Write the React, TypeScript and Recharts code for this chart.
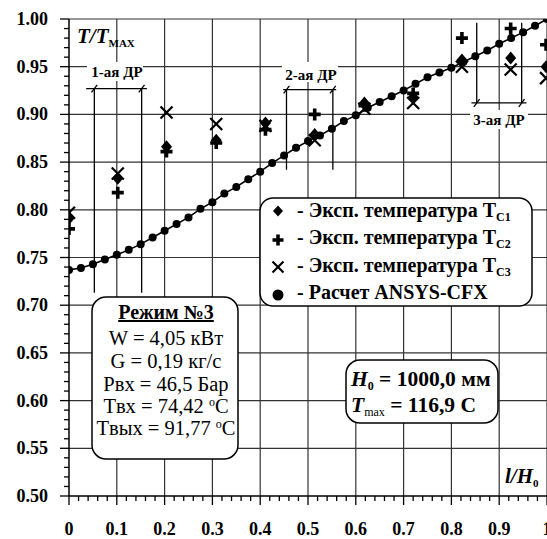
import React from 'react';
import {
    ComposedChart,
    Line,
    Scatter,
    XAxis,
    YAxis,
    ReferenceLine,
} from 'recharts';

// ANSYS-CFX calculation, l/H0 -> T/Tmax
const calcX = [
    0, 0.025, 0.05, 0.075, 0.1, 0.125, 0.15, 0.175, 0.2, 0.225,
    0.25, 0.275, 0.3, 0.325, 0.35, 0.375, 0.4, 0.425, 0.45, 0.475,
    0.5, 0.525, 0.55, 0.575, 0.6, 0.625, 0.65, 0.675, 0.7, 0.725,
    0.75, 0.775, 0.8, 0.825, 0.85, 0.875, 0.9, 0.925, 0.95, 0.975, 1.0,
];
const calcY = [
    0.737, 0.739, 0.743, 0.748, 0.753, 0.758, 0.764, 0.771, 0.778, 0.785,
    0.792, 0.801, 0.808, 0.817, 0.824, 0.832, 0.840, 0.849, 0.857, 0.865,
    0.872, 0.878, 0.885, 0.893, 0.899, 0.907, 0.913, 0.919, 0.925, 0.932,
    0.939, 0.944, 0.949, 0.955, 0.961, 0.967, 0.974, 0.980, 0.986, 0.993, 1.0,
];

// experimental points
const expX = [0, 0.102, 0.204, 0.308, 0.411, 0.514, 0.618, 0.72, 0.822, 0.924, 0.998];
const tc1 = [0.791, 0.833, 0.866, 0.873, 0.891, 0.879, 0.912, 0.918, 0.957, 0.959, 0.950];
const tc2 = [0.780, 0.818, 0.861, 0.870, 0.884, 0.900, 0.909, 0.922, 0.980, 0.990, 0.973];
const tc3 = [0.797, 0.838, 0.902, 0.890, 0.888, 0.873, 0.906, 0.912, 0.950, 0.947, 0.938];

// axes
const xMajorTicks = [0, 0.1, 0.2, 0.3, 0.4, 0.5, 0.6, 0.7, 0.8, 0.9, 1.0];
const xTickLabels = ['0', '0.1', '0.2', '0.3', '0.4', '0.5', '0.6', '0.7', '0.8', '0.9', '1'];
const yMajorTicks = [0.5, 0.55, 0.6, 0.65, 0.7, 0.75, 0.8, 0.85, 0.9, 0.95, 1.0];
const yTickLabels = ['0.50', '0.55', '0.60', '0.65', '0.70', '0.75', '0.80', '0.85', '0.90', '0.95', '1.00'];

// "ДР" zones: left/right x, top/bottom y of the verticals, y of the bar, bar ends
const drLeft = [0.053, 0.455, 0.853];
const drRight = [0.152, 0.552, 0.947];
const drTop = [0.927, 0.926, 0.996];
const drBottom = [0.713, 0.842, 0.912];
const drBarY = [0.927, 0.926, 0.912];
const drBarFrom = [0.036, 0.448, 0.842];
const drBarTo = [0.163, 0.559, 0.957];

const xMinorTicks = Array.from({ length: 51 }, (_, i) => i / 50);
const yMinorTicks = Array.from({ length: 51 }, (_, i) => 0.5 + i / 100);

const calcData = calcX.map((x, i) => ({ x, y: calcY[i] }));
const tc1Data = expX.map((x, i) => ({ x, y: tc1[i] }));
const tc2Data = expX.map((x, i) => ({ x, y: tc2[i] }));
const tc3Data = expX.map((x, i) => ({ x, y: tc3[i] }));

const FONT = 'Liberation Serif, serif';
const serif = { fontFamily: FONT };

const isMajor = (v: number, step: number) => Math.abs(Math.round(v / step) * step - v) < 1e-6;

const XTick = (props: any) => {
    const { x, y, payload } = props;
    const v = payload.value;
    const major = isMajor(v, 0.1);
    const idx = xMajorTicks.findIndex((t) => Math.abs(t - v) < 1e-6);
    return (
        <g>
            <line x1={x} x2={x} y1={y} y2={y + (major ? 9 : 5)} stroke="#000" strokeWidth={1.3} />
            {major && idx >= 0 && (
                <text x={x} y={y + 39} textAnchor="middle" style={serif} fontWeight="bold" fontSize={18} fill="#000">
                    {xTickLabels[idx]}
                </text>
            )}
        </g>
    );
};

const YTick = (props: any) => {
    const { x, y, payload } = props;
    const v = payload.value;
    const major = isMajor(v, 0.05);
    const idx = yMajorTicks.findIndex((t) => Math.abs(t - v) < 1e-6);
    return (
        <g>
            <line x1={x - (major ? 9 : 5)} x2={x} y1={y} y2={y} stroke="#000" strokeWidth={1.3} />
            {major && idx >= 0 && (
                <text x={x - 21} y={y + 6} textAnchor="end" style={serif} fontWeight="bold" fontSize={18} fill="#000">
                    {yTickLabels[idx]}
                </text>
            )}
        </g>
    );
};

const diamondPath = (cx: number, cy: number, w: number, h: number) =>
    `M${cx},${cy - h} L${cx + w},${cy} L${cx},${cy + h} L${cx - w},${cy} Z`;

const plusPath = (cx: number, cy: number, a: number, t: number) =>
    `M${cx - t},${cy - a} H${cx + t} V${cy - t} H${cx + a} V${cy + t} H${cx + t} V${cy + a} H${cx - t} V${cy + t} H${cx - a} V${cy - t} H${cx - t} Z`;

const DiamondShape = (p: any) => <path d={diamondPath(p.cx, p.cy, 5.5, 6.5)} fill="#000" />;
const PlusShape = (p: any) => <path d={plusPath(p.cx, p.cy, 6, 1.8)} fill="#000" />;
const CrossShape = (p: any) => (
    <g stroke="#000" strokeWidth={2.2}>
        <line x1={p.cx - 6} y1={p.cy - 6} x2={p.cx + 6} y2={p.cy + 6} />
        <line x1={p.cx - 6} y1={p.cy + 6} x2={p.cx + 6} y2={p.cy - 6} />
    </g>
);

const gridStroke = '#333';

const App: React.FC = () => {
    const drSegments: React.ReactNode[] = [];
    drLeft.forEach((l, i) => {
        const r = drRight[i];
        drSegments.push(
            <ReferenceLine key={`drl${i}`} segment={[{ x: l, y: drTop[i] }, { x: l, y: drBottom[i] }]} stroke="#000" strokeWidth={1.3} />,
            <ReferenceLine key={`drr${i}`} segment={[{ x: r, y: drTop[i] }, { x: r, y: drBottom[i] }]} stroke="#000" strokeWidth={1.3} />,
            <ReferenceLine key={`drb${i}`} segment={[{ x: drBarFrom[i], y: drBarY[i] }, { x: drBarTo[i], y: drBarY[i] }]} stroke="#000" strokeWidth={1.3} />,
            <ReferenceLine key={`drs1${i}`} segment={[{ x: l - 0.006, y: drBarY[i] - 0.004 }, { x: l + 0.006, y: drBarY[i] + 0.004 }]} stroke="#000" strokeWidth={1.3} />,
            <ReferenceLine key={`drs2${i}`} segment={[{ x: r - 0.006, y: drBarY[i] - 0.004 }, { x: r + 0.006, y: drBarY[i] + 0.004 }]} stroke="#000" strokeWidth={1.3} />,
        );
    });

    return (
        <div style={{ position: 'absolute', left: 0, top: 0, width: 547, height: 539, overflow: 'hidden', background: '#fff', fontFamily: FONT }}>
            <ComposedChart width={560} height={539} margin={{ top: 19, right: 13, left: 0, bottom: 0 }}>
                <XAxis
                    dataKey="x"
                    type="number"
                    domain={[0, 1]}
                    ticks={xMinorTicks}
                    interval={0}
                    tickSize={0}
                    tickMargin={0}
                    tick={<XTick />}
                    height={43}
                    axisLine={{ stroke: '#000', strokeWidth: 1.5 }}
                    allowDataOverflow
                />
                <YAxis
                    type="number"
                    domain={[0.5, 1]}
                    ticks={yMinorTicks}
                    interval={0}
                    tickSize={0}
                    tickMargin={0}
                    tick={<YTick />}
                    width={69}
                    axisLine={{ stroke: '#000', strokeWidth: 1.5 }}
                    allowDataOverflow
                />
                {xMajorTicks.slice(1).map((v) => (
                    <ReferenceLine key={`gx${v}`} x={v} stroke={gridStroke} strokeWidth={1.2} />
                ))}
                {yMajorTicks.slice(1).map((v) => (
                    <ReferenceLine key={`gy${v}`} y={v} stroke={gridStroke} strokeWidth={1.2} />
                ))}
                {drSegments}
                <Line
                    data={calcData}
                    dataKey="y"
                    type="linear"
                    stroke="#000"
                    strokeWidth={1.6}
                    dot={{ r: 4, fill: '#000', stroke: '#000', strokeWidth: 0 }}
                    activeDot={false}
                    isAnimationActive={false}
                />
                <Scatter data={tc1Data} dataKey="y" shape={DiamondShape} isAnimationActive={false} />
                <Scatter data={tc2Data} dataKey="y" shape={PlusShape} isAnimationActive={false} />
                <Scatter data={tc3Data} dataKey="y" shape={CrossShape} isAnimationActive={false} />
            </ComposedChart>

            <svg width={547} height={539} style={{ position: 'absolute', left: 0, top: 0, pointerEvents: 'none', fontFamily: FONT }}>
                {/* zone labels */}
                <rect x={87} y={62} width={56} height={19} fill="#fff" />
                <text x={117} y={77} textAnchor="middle" fontWeight="bold" fontSize={15}>1-ая ДР</text>
                <rect x={282} y={62} width={56} height={20} fill="#fff" />
                <text x={311} y={80} textAnchor="middle" fontWeight="bold" fontSize={15}>2-ая ДР</text>
                <rect x={470} y={110} width={58} height={19} fill="#fff" />
                <text x={499} y={125} textAnchor="middle" fontWeight="bold" fontSize={15}>3-ая ДР</text>

                {/* axis titles */}
                <text x={77} y={43} fontWeight="bold" fontSize={21}>
                    <tspan fontStyle="italic">T/T</tspan>
                    <tspan fontSize={11} dy={4}>MAX</tspan>
                </text>
                <text x={505} y={483} fontWeight="bold" fontSize={21}>
                    <tspan fontStyle="italic">l/H</tspan>
                    <tspan fontSize={11} dy={4}>0</tspan>
                </text>

                {/* legend */}
                <rect x={260} y={198} width={272} height={108} rx={13} fill="#fff" stroke="#000" strokeWidth={1.5} />
                <path d={diamondPath(278, 211, 5, 5.5)} fill="#000" />
                <path d={plusPath(278, 240, 5.5, 1.8)} fill="#000" />
                <g stroke="#000" strokeWidth={2.2}>
                    <line x1={272.5} y1={261.5} x2={283.5} y2={272.5} />
                    <line x1={272.5} y1={272.5} x2={283.5} y2={261.5} />
                </g>
                <circle cx={278} cy={295} r={5.5} fill="#000" />
                {['C1', 'C2', 'C3'].map((s, i) => (
                    <text key={s} x={297} y={217 + i * 27.3} fontWeight="bold" fontSize={20}>
                        - Эксп. температура T<tspan fontSize={12} dy={4}>{s}</tspan>
                    </text>
                ))}
                <text x={297} y={299} fontWeight="bold" fontSize={20}>- Расчет ANSYS-CFX</text>

                {/* regime box */}
                <rect x={92} y={297} width={146} height={162} rx={14} fill="#fff" stroke="#000" strokeWidth={1.5} />
                <text x={166} y={319} textAnchor="middle" fontWeight="bold" fontSize={20} textDecoration="underline">Режим №3</text>
                <g fontSize={20.5} textAnchor="middle">
                    <text x={166} y={345}>W = 4,05 кВт</text>
                    <text x={166} y={368}>G = 0,19 кг/с</text>
                    <text x={166} y={391}>Рвх = 46,5 Бар</text>
                    <text x={166} y={413}>Tвх = 74,42 <tspan fontSize={12} dy={-7}>o</tspan><tspan dy={7}>C</tspan></text>
                    <text x={166} y={435}>Tвых = 91,77 <tspan fontSize={12} dy={-7}>o</tspan><tspan dy={7}>C</tspan></text>
                </g>

                {/* H0 box */}
                <rect x={346} y={360} width={152} height={63} rx={14} fill="#fff" stroke="#000" strokeWidth={1.5} />
                <text x={351} y={386} fontWeight="bold" fontSize={21.5}>
                    <tspan fontStyle="italic">H</tspan>
                    <tspan fontSize={12} dy={4}>0</tspan>
                    <tspan dy={-4}> = 1000,0 мм</tspan>
                </text>
                <text x={351} y={412} fontWeight="bold" fontSize={21.5}>
                    <tspan fontStyle="italic">T</tspan>
                    <tspan fontSize={12} fontWeight="normal" dy={4}>max</tspan>
                    <tspan dy={-4}> =  116,9 C</tspan>
                </text>
            </svg>
        </div>
    );
};

export default App;
